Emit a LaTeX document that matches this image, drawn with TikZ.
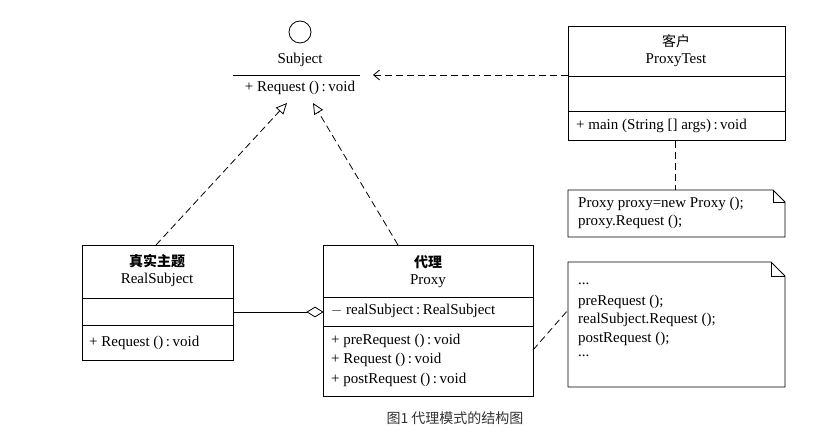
\documentclass[tikz,border=0pt]{standalone}
\usepackage{fontspec}
\setmainfont{Liberation Serif}
\newfontfamily\cjk{Noto Sans CJK SC}
\usetikzlibrary{arrows.meta,shapes.geometric}
\begin{document}
\begin{tikzpicture}[x=1pt,y=-1pt,
  txt/.style={font=\fontsize{15}{17}\selectfont,inner sep=0pt},
  lt/.style={txt,anchor=west},
  ct/.style={inner sep=0pt,font=\cjk\bfseries\fontsize{14}{16}\selectfont},
  box/.style={draw,line width=0.8pt},
  dsh/.style={line width=0.8pt,dash pattern=on 7pt off 4pt},
  real/.style={dsh,-{Triangle[open,length=11pt,width=10pt]}},
  dep/.style={dsh,-{Straight Barb[length=6pt,width=10pt]}}]
\useasboundingbox[fill=white] (0,0) rectangle (833,438);
% Subject interface
\node[draw,circle,minimum size=22pt,inner sep=0pt,line width=0.8pt] (c) at (300,32) {};
\node[txt] (subj) at (300,60) {Subject};
\draw[line width=0.8pt] (233,75) -- (360,75);
\node[txt] (sreq) at (300,88) {+ Request ()\,:\,void};
\coordinate (sa) at (373,75);
\coordinate (r1) at (287,103);
\coordinate (r2) at (313,103);
% ProxyTest
\node[box,minimum width=217pt,minimum height=114pt,anchor=north west] (pt) at (568,26) {};
\draw[line width=0.8pt] (568,76) -- (785,76) (568,111) -- (785,111);
\node[ct,font=\cjk\fontsize{14}{16}\selectfont] (pt1) at (676,41) {客户};
\node[txt] (pt2) at (676,60) {ProxyTest};
\node[lt] (pt3) at (576,126) {+ main (String [] args)\,:\,void};
\coordinate (ptl) at (568,75);
\draw[dep] (ptl) -- (sa);
% Note 1
\draw[box] (568,190) -- (773,190) -- (785,202) -- (785,237) -- (568,237) -- cycle;
\draw[line width=0.8pt] (773,190) -- (773,202) -- (785,202);
\node[lt] (n1a) at (578,204) {Proxy proxy=new Proxy ();};
\node[lt] (n1b) at (578,222) {proxy.Request ();};
\coordinate (n1t) at (675,190);
\draw[dsh] (pt.south -| n1t) -- (n1t);
% RealSubject
\node[box,minimum width=151pt,minimum height=115pt,anchor=north west] (rs) at (82,245) {};
\draw[line width=0.8pt] (82,298) -- (233,298) (82,325) -- (233,325);
\node[ct] (rs1) at (157,261) {真实主题};
\node[txt] (rs2) at (157,280) {RealSubject};
\node[lt] (rs3) at (89,343) {+ Request ()\,:\,void};
% Proxy
\node[box,minimum width=210pt,minimum height=151pt,anchor=north west] (px) at (323,245) {};
\draw[line width=0.8pt] (323,297) -- (533,297) (323,326) -- (533,326);
\node[ct] (px1) at (428,262) {代理};
\node[txt] (px2) at (428,281) {Proxy};
\node[lt] (px3) at (331,311) {$-$ realSubject\,:\,RealSubject};
\node[lt] (px4) at (331,341) {+ preRequest ()\,:\,void};
\node[lt] (px5) at (331,360) {+ Request ()\,:\,void};
\node[lt] (px6) at (331,380) {+ postRequest ()\,:\,void};
% realizations
\draw[real] (156,245) -- (r1);
\draw[real] (398,245) -- (r2);
% aggregation
\draw[line width=0.8pt] (233,312) -- (307,312);
\node[draw,diamond,minimum width=16pt,minimum height=10pt,inner sep=0pt,line width=0.8pt,fill=white] (dm) at (315,312) {};
% Note 2
\draw[box] (568,262) -- (771,262) -- (785,276) -- (785,387) -- (568,387) -- cycle;
\draw[line width=0.8pt] (771,262) -- (771,276) -- (785,276);
\node[lt] (n2a) at (578,284) {...};
\node[lt] (n2b) at (578,302) {preRequest ();};
\node[lt] (n2c) at (578,320) {realSubject.Request ();};
\node[lt] (n2d) at (578,339) {postRequest ();};
\node[lt] (n2e) at (578,356) {...};
\coordinate (n2l) at (568,310);
\coordinate (pxr) at (533,350);
\draw[dsh] (pxr) -- (n2l);
% caption
\node[inner sep=0pt,font=\cjk\fontsize{14}{16}\selectfont,text=black!80] (cap) at (455,418) {图1 代理模式的结构图};
\end{tikzpicture}
\end{document}
